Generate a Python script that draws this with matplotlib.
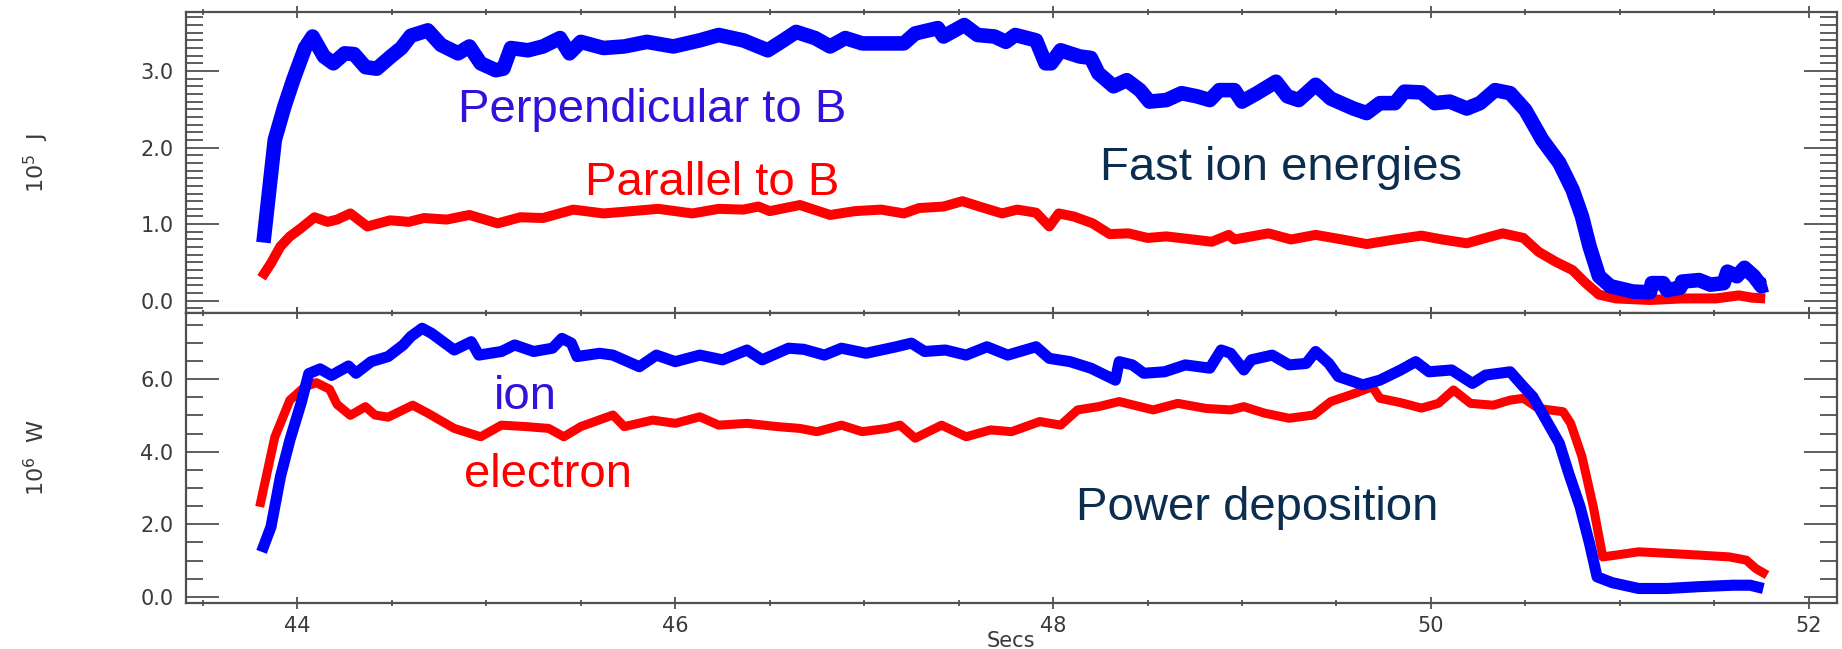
import matplotlib
matplotlib.use("Agg")
import matplotlib.pyplot as plt
from matplotlib.ticker import MultipleLocator, FormatStrFormatter

# fast ion energies, 1e5 J
perp_t = [43.82, 43.88, 43.93, 43.98, 44.04, 44.08, 44.14, 44.19, 44.25, 44.30, 44.36, 44.42, 44.49, 44.55,
          44.60, 44.69, 44.76, 44.85, 44.91, 44.97, 45.05, 45.09, 45.13, 45.22, 45.30, 45.39, 45.44, 45.50,
          45.62, 45.73, 45.85, 45.99, 46.13, 46.23, 46.36, 46.49, 46.56, 46.64, 46.74, 46.82, 46.90, 46.99,
          47.09, 47.21, 47.27, 47.39, 47.42, 47.53, 47.60, 47.69, 47.75, 47.80, 47.91, 47.96, 47.99, 48.04,
          48.14, 48.20, 48.24, 48.32, 48.39, 48.46, 48.51, 48.60, 48.68, 48.76, 48.83, 48.88, 48.96, 49.00,
          49.08, 49.18, 49.24, 49.30, 49.39, 49.47, 49.59, 49.66, 49.73, 49.81, 49.86, 49.95, 50.02, 50.10,
          50.19, 50.26, 50.34, 50.42, 50.50, 50.59, 50.68, 50.75, 50.80, 50.84, 50.89, 50.95, 51.07, 51.16,
          51.17, 51.23, 51.25, 51.32, 51.33, 51.42, 51.48, 51.55, 51.57, 51.62, 51.66, 51.71, 51.75, 51.78]
perp_e = [0.76, 2.10, 2.53, 2.90, 3.30, 3.45, 3.19, 3.10, 3.23, 3.22, 3.05, 3.03, 3.18, 3.30,
          3.46, 3.53, 3.34, 3.23, 3.32, 3.10, 3.01, 3.03, 3.30, 3.27, 3.32, 3.43, 3.23, 3.38,
          3.30, 3.32, 3.38, 3.32, 3.40, 3.47, 3.40, 3.27, 3.38, 3.51, 3.43, 3.32, 3.43, 3.36,
          3.36, 3.36, 3.49, 3.56, 3.45, 3.60, 3.47, 3.45, 3.38, 3.47, 3.40, 3.10, 3.10, 3.27,
          3.19, 3.17, 2.97, 2.80, 2.88, 2.75, 2.60, 2.62, 2.71, 2.67, 2.62, 2.75, 2.75, 2.60,
          2.71, 2.86, 2.67, 2.62, 2.82, 2.64, 2.51, 2.45, 2.58, 2.58, 2.73, 2.72, 2.58, 2.60,
          2.51, 2.58, 2.75, 2.71, 2.49, 2.10, 1.80, 1.45, 1.10, 0.71, 0.32, 0.19, 0.12, 0.11,
          0.23, 0.23, 0.14, 0.17, 0.25, 0.27, 0.21, 0.23, 0.38, 0.32, 0.43, 0.32, 0.19, 0.21]

par_t = [43.81, 43.86, 43.91, 43.96, 44.02, 44.09, 44.16, 44.21, 44.28, 44.37, 44.49, 44.59, 44.67, 44.79,
         44.91, 45.06, 45.18, 45.30, 45.46, 45.62, 45.77, 45.91, 46.09, 46.23, 46.36, 46.44, 46.50, 46.66,
         46.82, 46.95, 47.09, 47.21, 47.29, 47.42, 47.52, 47.61, 47.73, 47.81, 47.91, 47.98, 48.03, 48.11,
         48.21, 48.30, 48.40, 48.50, 48.60, 48.74, 48.84, 48.93, 48.96, 49.14, 49.26, 49.39, 49.53, 49.66,
         49.81, 49.95, 50.06, 50.19, 50.29, 50.38, 50.49, 50.57, 50.66, 50.75, 50.82, 50.89, 50.98, 51.16,
         51.33, 51.51, 51.63, 51.70, 51.77]
par_e = [0.30, 0.49, 0.71, 0.84, 0.95, 1.09, 1.03, 1.06, 1.14, 0.97, 1.05, 1.03, 1.08, 1.06,
         1.12, 1.01, 1.09, 1.08, 1.19, 1.14, 1.17, 1.20, 1.14, 1.20, 1.19, 1.23, 1.17, 1.25,
         1.12, 1.17, 1.19, 1.14, 1.21, 1.23, 1.30, 1.23, 1.14, 1.19, 1.15, 0.97, 1.14, 1.10,
         1.01, 0.87, 0.88, 0.82, 0.84, 0.80, 0.77, 0.86, 0.80, 0.88, 0.80, 0.86, 0.80, 0.74,
         0.80, 0.85, 0.80, 0.75, 0.82, 0.88, 0.82, 0.64, 0.51, 0.40, 0.23, 0.08, 0.03, 0.01,
         0.03, 0.03, 0.07, 0.04, 0.03]

# power deposition, 1e6 W
ion_t = [43.81, 43.86, 43.91, 43.96, 44.02, 44.06, 44.12, 44.18, 44.27, 44.31, 44.39, 44.48, 44.56, 44.60,
         44.66, 44.71, 44.83, 44.92, 44.96, 45.08, 45.15, 45.25, 45.35, 45.40, 45.45, 45.48, 45.60, 45.67,
         45.81, 45.90, 46.00, 46.13, 46.25, 46.38, 46.46, 46.60, 46.68, 46.79, 46.88, 47.01, 47.17, 47.25,
         47.32, 47.43, 47.54, 47.65, 47.76, 47.91, 47.98, 48.09, 48.20, 48.33, 48.35, 48.42, 48.48, 48.59,
         48.70, 48.83, 48.89, 48.94, 49.01, 49.05, 49.16, 49.25, 49.34, 49.39, 49.46, 49.51, 49.64, 49.73,
         49.84, 49.92, 49.99, 50.11, 50.22, 50.29, 50.42, 50.49, 50.54, 50.61, 50.68, 50.73, 50.79, 50.84,
         50.88, 50.96, 51.10, 51.25, 51.42, 51.60, 51.69, 51.76]
ion_p = [1.24, 1.93, 3.31, 4.32, 5.35, 6.15, 6.28, 6.10, 6.36, 6.16, 6.48, 6.62, 6.94, 7.17,
         7.40, 7.26, 6.80, 7.03, 6.66, 6.76, 6.94, 6.76, 6.85, 7.12, 6.99, 6.62, 6.71, 6.66,
         6.34, 6.66, 6.48, 6.66, 6.53, 6.80, 6.53, 6.85, 6.82, 6.66, 6.85, 6.71, 6.89, 6.99,
         6.76, 6.80, 6.66, 6.89, 6.66, 6.89, 6.57, 6.48, 6.30, 5.97, 6.48, 6.39, 6.16, 6.20,
         6.39, 6.30, 6.80, 6.71, 6.25, 6.53, 6.66, 6.39, 6.43, 6.76, 6.43, 6.07, 5.84, 5.97,
         6.25, 6.48, 6.20, 6.25, 5.88, 6.11, 6.20, 5.79, 5.51, 4.87, 4.23, 3.40, 2.48, 1.47,
         0.55, 0.39, 0.23, 0.23, 0.28, 0.32, 0.32, 0.23]

elec_t = [43.80, 43.88, 43.96, 44.04, 44.10, 44.17, 44.21, 44.28, 44.36, 44.41, 44.48, 44.61, 44.69, 44.83,
          44.97, 45.08, 45.21, 45.33, 45.41, 45.50, 45.67, 45.73, 45.88, 46.00, 46.13, 46.23, 46.38, 46.54,
          46.66, 46.75, 46.88, 46.99, 47.12, 47.19, 47.27, 47.41, 47.54, 47.67, 47.78, 47.93, 48.04, 48.13,
          48.24, 48.35, 48.53, 48.66, 48.81, 48.94, 49.01, 49.12, 49.25, 49.38, 49.47, 49.60, 49.69, 49.73,
          49.84, 49.95, 50.04, 50.12, 50.21, 50.33, 50.42, 50.49, 50.57, 50.70, 50.74, 50.80, 50.86, 50.91,
          50.98, 51.10, 51.28, 51.42, 51.58, 51.67, 51.72, 51.78]
elec_p = [2.48, 4.40, 5.42, 5.79, 5.90, 5.72, 5.30, 5.00, 5.24, 5.01, 4.95, 5.28, 5.06, 4.64,
          4.41, 4.73, 4.69, 4.64, 4.41, 4.69, 5.01, 4.69, 4.87, 4.78, 4.96, 4.73, 4.78, 4.69,
          4.64, 4.55, 4.73, 4.55, 4.64, 4.73, 4.37, 4.73, 4.41, 4.60, 4.55, 4.83, 4.73, 5.15,
          5.24, 5.38, 5.15, 5.33, 5.19, 5.15, 5.24, 5.06, 4.92, 5.01, 5.38, 5.61, 5.79, 5.47,
          5.35, 5.20, 5.33, 5.70, 5.33, 5.28, 5.42, 5.47, 5.19, 5.10, 4.78, 3.86, 2.48, 1.10,
          1.15, 1.24, 1.19, 1.15, 1.10, 1.01, 0.78, 0.60]

BLUE = "#0000ff"
RED = "#ff0000"
NAVY = "#0b2d4f"
VIOLET = "#3311dd"
GRAY = "#505050"
TXT = "#3a3a3a"

plt.rcParams["font.family"] = ["Liberation Sans", "DejaVu Sans"]

fig = plt.figure(figsize=(18.42, 6.49), dpi=100)
W, H = 1842.0, 649.0
ax1 = fig.add_axes([186 / W, 1 - 313 / H, 1651 / W, 301 / H])
ax2 = fig.add_axes([186 / W, 1 - 603 / H, 1651 / W, 290 / H])

ax1.plot(par_t, par_e, color=RED, lw=7.2, solid_capstyle="butt")
ax1.plot(perp_t, perp_e, color=BLUE, lw=10.5, solid_capstyle="butt")
ax2.plot(elec_t, elec_p, color=RED, lw=6.5, solid_capstyle="butt")
ax2.plot(ion_t, ion_p, color=BLUE, lw=8, solid_capstyle="butt")

ax1.set_ylim(-0.16, 3.77)
ax2.set_ylim(-0.17, 7.82)
ax1.yaxis.set_major_locator(MultipleLocator(1.0))
ax1.yaxis.set_minor_locator(MultipleLocator(0.1))
ax2.yaxis.set_major_locator(MultipleLocator(2.0))
ax2.yaxis.set_minor_locator(MultipleLocator(0.5))

for ax in (ax1, ax2):
    ax.set_xlim(43.41, 52.15)
    ax.xaxis.set_major_locator(MultipleLocator(2))
    ax.xaxis.set_minor_locator(MultipleLocator(0.5))
    ax.yaxis.set_major_formatter(FormatStrFormatter("%.1f"))
    for s in ax.spines.values():
        s.set_color(GRAY)
        s.set_linewidth(1.6)
    ax.tick_params(axis="y", which="both", direction="in", left=True, right=True,
                   color=GRAY, width=1.3, labelsize=15, labelcolor=TXT, pad=9)
    ax.tick_params(axis="y", which="major", length=24)
    ax.tick_params(axis="y", which="minor", length=12)
    ax.tick_params(axis="x", which="both", direction="inout", top=True, bottom=True,
                   color=GRAY, width=1.3, labelsize=15, labelcolor=TXT, pad=5)
    ax.tick_params(axis="x", which="major", length=8)
    ax.tick_params(axis="x", which="minor", length=5)
    for lab in ax.get_yticklabels() + ax.get_xticklabels():
        lab.set_family("DejaVu Sans")

ax1.tick_params(axis="x", labelbottom=False)

# annotations
ax1.text(44.85, 2.33, "Perpendicular to B", color=VIOLET, fontsize=34, va="baseline")
ax1.text(45.52, 1.38, "Parallel to B", color=RED, fontsize=34, va="baseline")
ax1.text(48.25, 1.58, "Fast ion energies", color=NAVY, fontsize=34, va="baseline")
ax2.text(45.04, 5.18, "ion", color=VIOLET, fontsize=34, va="baseline")
ax2.text(44.88, 3.03, "electron", color=RED, fontsize=34, va="baseline")
ax2.text(48.12, 2.12, "Power deposition", color=NAVY, fontsize=34, va="baseline")

fig.text(36 / W, 1 - 163 / H, r"10$^5$  J", rotation=90, ha="center", va="center",
         fontsize=16, color=TXT, family="DejaVu Sans")
fig.text(36 / W, 1 - 458 / H, r"10$^6$  W", rotation=90, ha="center", va="center",
         fontsize=16, color=TXT, family="DejaVu Sans")
fig.text(1011 / W, 1 - 631 / H, "Secs", ha="center", va="top",
         fontsize=15, color=TXT, family="DejaVu Sans")

fig.savefig("out.png", dpi=100)
